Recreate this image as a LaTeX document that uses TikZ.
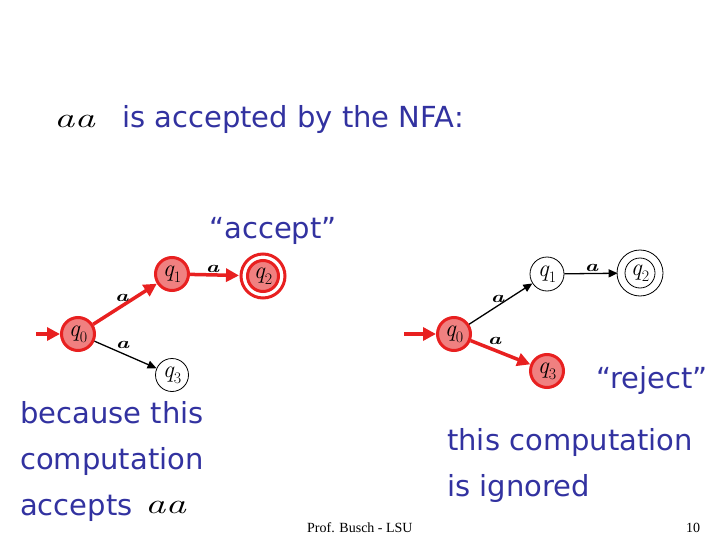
\documentclass[tikz,border=0pt]{standalone}
\usepackage{fontspec}
\setsansfont{DejaVu Sans}
\newfontfamily\footfont{Liberation Serif}
\usetikzlibrary{arrows.meta}
\definecolor{tblue}{RGB}{50,50,160}
\definecolor{sred}{RGB}{232,32,32}
\definecolor{sfill}{RGB}{240,128,128}
\newcommand{\qs}[1]{\itshape q\kern0.3pt\raisebox{-0.25em}{\upshape\fontsize{16}{16}\selectfont #1}}
\newcommand{\aaword}{\scalebox{1.45}[1]{\itshape aa}}
\newcommand{\aword}{\scalebox{1.4}[1]{\itshape a}}
\begin{document}
\begin{tikzpicture}[x=1pt,y=-1pt,
  st/.style={circle, draw=black, line width=0.8pt, minimum size=34pt, inner sep=0pt,
    font=\fontsize{24}{24}\selectfont},
  act/.style={st, draw=sred, fill=sfill, line width=3pt, minimum size=33pt},
  edge/.style={line width=1.3pt, -{Triangle[length=9pt,width=8pt]}},
  redge/.style={draw=sred, line width=3.5pt, -{Triangle[length=13pt,width=13pt]}},
  lbl/.style={font=\bfseries\fontsize{16}{16}\selectfont, inner sep=1pt},
  aab/.style={font=\fontsize{28}{28}\selectfont, inner sep=0pt, anchor=base west},
  btxt/.style={font=\sffamily\fontsize{29}{29}\selectfont, text=tblue, inner sep=0pt, anchor=base west},
  ftxt/.style={font=\footfont\fontsize{14}{14}\selectfont, inner sep=0pt, anchor=base west}
]
\useasboundingbox (0,0) rectangle (720,540);

% header
\node[aab] (hdraa) at (54,128) {\aaword};
\node[btxt] (hdr) at (122,128) {is accepted by the NFA:};

% left NFA (accepting path)
\node[act] (lq0) at (78,334) {\qs{0}};
\node[act] (lq1) at (172,274) {\qs{1}};
\node[act, minimum size=31pt] (lq2) at (263,276) {\qs{2}};
\draw[sred, line width=3pt] (lq2) circle (22);
\node[st, minimum size=33pt] (lq3) at (172,375) {\qs{3}};
\coordinate (lin) at (36,334);
\draw[redge] (lin) -- (lq0);
\draw[redge] (lq0) -- node[lbl, above=2pt, pos=0.45] (la1) {\aword} (lq1);
\draw[redge, shorten >=7pt] (lq1) -- node[lbl, above=0pt, pos=0.4] (la2) {\aword} (lq2);
\draw[edge] (lq0) -- node[lbl, above=3pt, pos=0.45] (la3) {\aword} (lq3);

\node[btxt, anchor=base] (acc) at (273,238) {“accept”};

% right NFA (rejecting path)
\node[act] (rq0) at (454,334) {\qs{0}};
\node[st] (rq1) at (547,274) {\qs{1}};
\node[st, minimum size=30pt] (rq2) at (640,273) {\qs{2}};
\draw[line width=0.8pt] (rq2) circle (23);
\node[act] (rq3) at (547,371) {\qs{3}};
\coordinate (rin) at (404,334);
\draw[redge] (rin) -- (rq0);
\draw[edge] (rq0) -- node[lbl, above=2pt, pos=0.45] (ra1) {\aword} (rq1);
\draw[edge, shorten >=7pt] (rq1) -- node[lbl, above=0pt, pos=0.45] (ra2) {\aword} (rq2);
\draw[redge] (rq0) -- node[lbl, above=3pt, pos=0.4] (ra3) {\aword} (rq3);

\node[btxt, anchor=base] (rej) at (652,388) {“reject”};

% explanations
\node[btxt] (l1) at (20,423) {because this};
\node[btxt] (l2) at (20,469) {computation};
\node[btxt] (l3) at (20,515) {accepts};
\node[aab] (l3aa) at (145,513) {\aaword};

\node[btxt] (r1) at (447,450) {this computation};
\node[btxt] (r2) at (447,496) {is ignored};

% footer
\node[ftxt] (foot) at (307,532) {Prof. Busch - LSU};
\node[ftxt] (pg) at (686,532) {10};
\end{tikzpicture}
\end{document}
